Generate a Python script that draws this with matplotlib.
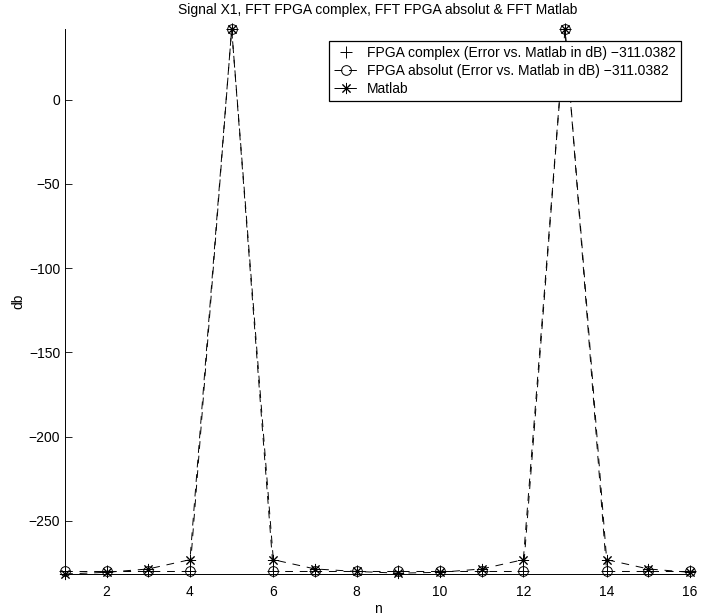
import matplotlib.pyplot as plt

plt.rcParams['font.family'] = ['Liberation Sans', 'DejaVu Sans']

n = list(range(1, 17))
fpga_complex = [-280, -280, -280, -280, 42, -280, -280, -280,
                -280, -280, -280, -280, 42, -280, -280, -280]
fpga_absolut = [-280, -280, -280, -280, 42, -280, -280, -280,
                -280, -280, -280, -280, 42, -280, -280, -280]
matlab = [-281.5, -280.5, -278.5, -273, 42, -273, -278.5, -280,
          -281, -280.5, -278.5, -273, 42, -273, -278.5, -280.5]
err_complex = -311.0382
err_absolut = -311.0382

fig = plt.figure(figsize=(7.03, 6.15), dpi=100)
ax = fig.add_axes([65 / 703, 1 - 574 / 615, 625 / 703, 545 / 615])

# matlab style asterisk: 8 thin arms
star = (8, 2, 0)

ax.plot(n, fpga_complex, '+', color='k', markersize=8, markeredgewidth=0.7,
        clip_on=False,
        label='FPGA complex (Error vs. Matlab in dB) \u2212%.4f' % -err_complex)
ax.plot(n, fpga_absolut, '--', marker='o', color='k', markersize=7, markerfacecolor='none',
        linewidth=0.7, markeredgewidth=0.7, dashes=(8, 7), clip_on=False,
        label='FPGA absolut (Error vs. Matlab in dB) \u2212%.4f' % -err_absolut)
ax.plot(n, matlab, '--', marker=star, color='k', markersize=8, linewidth=0.7,
        markeredgewidth=0.7, dashes=(8, 7), clip_on=False, label='Matlab')

ax.set_xlim(1, 16)
ax.set_ylim(-281.5, 42)
ax.set_xticks(range(2, 17, 2))
ax.set_yticks([-250, -200, -150, -100, -50, 0])
ax.yaxis.set_major_formatter(plt.FuncFormatter(lambda v, p: ('%d' % v).replace('-', '\u2212')))
ax.tick_params(direction='in', length=5, labelsize=10, width=0.6)
ax.tick_params(axis='x', pad=8)
ax.spines['top'].set_visible(False)
ax.spines['right'].set_visible(False)
for s in ['left', 'bottom']:
    ax.spines[s].set_linewidth(0.7)

ax.set_title('Signal X1, FFT FPGA complex, FFT FPGA absolut & FFT Matlab', fontsize=10, pad=11)
ax.set_xlabel('n', fontsize=10, labelpad=2)
ax.set_ylabel('db', fontsize=10, labelpad=2)

leg = ax.legend(loc='upper right', bbox_to_anchor=(681 / 703, 1 - 41 / 615),
                bbox_transform=fig.transFigure, borderaxespad=0, fancybox=False,
                framealpha=1, edgecolor='k', fontsize=10, handlelength=1.8,
                handletextpad=0.6, borderpad=0.35, labelspacing=0.3)
leg.get_frame().set_linewidth(0.9)

fig.savefig('out.png', dpi=100)
